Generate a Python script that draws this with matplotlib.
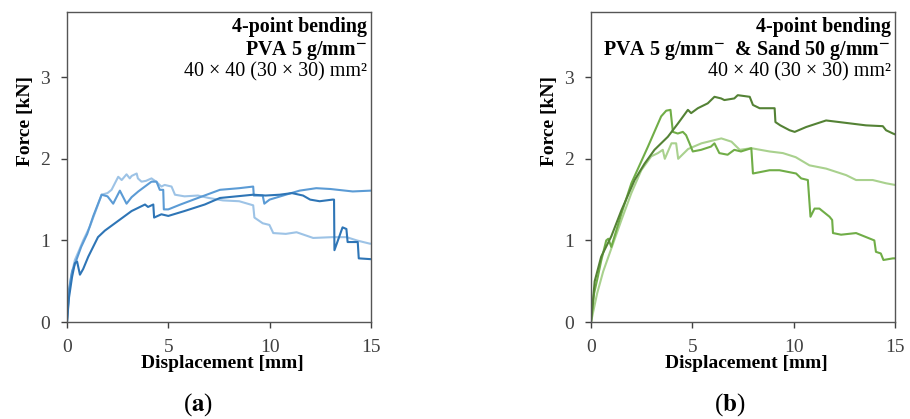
import matplotlib
matplotlib.use("Agg")
import matplotlib.pyplot as plt

plt.rcParams["font.family"] = ["Liberation Serif", "DejaVu Serif"]
plt.rcParams["mathtext.fontset"] = "stix"

# --- (a) PVA 5 g/mm, three specimens ---
a_light_x = [0, 0.1, 0.2, 0.39, 0.6, 0.8, 1.13, 1.4, 1.71, 2.0, 2.2, 2.53, 2.7, 2.94, 3.1, 3.19,
             3.44, 3.5, 3.68, 3.9, 4.17, 4.4, 4.66, 4.82, 5.16, 5.33, 5.8, 6.46, 7.0, 7.7, 8.5,
             9.19, 9.25, 9.66, 9.99, 10.18, 10.8, 11.33, 12.15, 13.1, 13.8, 14.3, 14.62, 14.95, 15]
a_light_y = [0, 0.35, 0.55, 0.76, 0.88, 1.0, 1.17, 1.35, 1.56, 1.58, 1.62, 1.78, 1.74, 1.81, 1.76, 1.79,
             1.82, 1.76, 1.72, 1.73, 1.76, 1.72, 1.66, 1.68, 1.66, 1.56, 1.54, 1.55, 1.52, 1.49, 1.48,
             1.43, 1.28, 1.21, 1.19, 1.09, 1.08, 1.1, 1.03, 1.04, 1.04, 1.0, 0.98, 0.96, 0.96]

a_med_x = [0, 0.1, 0.25, 0.45, 0.7, 1.0, 1.3, 1.71, 2.0, 2.28, 2.61, 2.94, 3.19, 3.52, 4.17, 4.42,
           4.58, 4.75, 4.78, 5.0, 5.6, 6.46, 7.55, 8.5, 9.19, 9.22, 9.66, 9.74, 10.0, 10.8, 11.48,
           12.3, 13.0, 14.1, 15]
a_med_y = [0, 0.4, 0.62, 0.75, 0.92, 1.08, 1.3, 1.56, 1.54, 1.45, 1.61, 1.45, 1.53, 1.6, 1.72, 1.72,
           1.62, 1.62, 1.38, 1.38, 1.44, 1.52, 1.62, 1.64, 1.66, 1.55, 1.55, 1.45, 1.5, 1.56, 1.61,
           1.64, 1.63, 1.6, 1.61]

a_dark_x = [0, 0.1, 0.25, 0.39, 0.5, 0.64, 0.8, 1.05, 1.53, 1.87, 2.53, 3.19, 3.85, 4.0, 4.26, 4.3,
            4.66, 5.0, 5.8, 6.8, 7.55, 9.19, 9.8, 10.5, 11.1, 11.65, 12.0, 12.47, 13.1, 13.18, 13.2,
            13.6, 13.79, 13.85, 14.2, 14.35, 14.4, 15]
a_dark_y = [0, 0.3, 0.55, 0.72, 0.74, 0.58, 0.65, 0.80, 1.04, 1.12, 1.24, 1.36, 1.44, 1.41, 1.44, 1.28,
            1.32, 1.3, 1.36, 1.44, 1.52, 1.56, 1.55, 1.56, 1.58, 1.55, 1.5, 1.48, 1.50, 1.50, 0.88,
            1.16, 1.14, 0.98, 0.98, 0.98, 0.78, 0.77]

# --- (b) PVA 5 g/mm & Sand 50 g/mm, three specimens ---
b_light_x = [0, 0.3, 0.6, 1.0, 1.5, 1.99, 2.48, 2.97, 3.3, 3.54, 3.64, 3.97, 4.2, 4.3, 4.79, 5.45,
             6.43, 6.93, 7.34, 7.91, 8.81, 9.47, 10.1, 10.78, 11.6, 12.59, 13.08, 13.9, 14.56, 15]
b_light_y = [0, 0.35, 0.62, 0.9, 1.25, 1.58, 1.86, 2.03, 2.07, 2.11, 2.0, 2.19, 2.19, 2.0, 2.12, 2.19,
             2.25, 2.21, 2.11, 2.13, 2.09, 2.07, 2.02, 1.92, 1.88, 1.80, 1.74, 1.74, 1.70, 1.68]

b_med_x = [0, 0.15, 0.34, 0.5, 0.75, 0.85, 1.0, 1.5, 1.99, 2.81, 3.46, 3.71, 3.92, 4.04, 4.28, 4.53,
           4.69, 4.86, 5.02, 5.43, 5.92, 6.09, 6.33, 6.74, 7.07, 7.4, 7.91, 7.99, 8.81, 9.3, 10.12,
           10.37, 10.7, 10.83, 11.03, 11.27, 11.77, 11.9, 11.94, 12.34, 13.08, 13.98, 14.06, 14.3,
           14.43, 14.9, 15]
b_med_y = [0, 0.35, 0.56, 0.75, 1.0, 1.02, 0.92, 1.33, 1.70, 2.15, 2.52, 2.59, 2.60, 2.33, 2.31, 2.33,
           2.29, 2.19, 2.09, 2.11, 2.15, 2.19, 2.07, 2.05, 2.11, 2.09, 2.13, 1.82, 1.86, 1.86, 1.82,
           1.76, 1.74, 1.29, 1.39, 1.39, 1.29, 1.25, 1.09, 1.07, 1.09, 1.0, 0.86, 0.84,
           0.76, 0.78, 0.78]

b_dark_x = [0, 0.18, 0.5, 1.0, 1.5, 2.15, 2.64, 3.13, 3.79, 4.28, 4.78, 4.94, 5.27, 5.76, 6.09, 6.42,
            6.58, 7.07, 7.24, 7.83, 7.99, 8.32, 9.06, 9.1, 9.34, 9.8, 10.05, 10.62, 11.6, 12.26,
            13.57, 14.4, 14.56, 14.9, 15]
b_dark_y = [0, 0.5, 0.8, 1.05, 1.37, 1.74, 1.94, 2.11, 2.27, 2.43, 2.6, 2.56, 2.62, 2.68, 2.76, 2.74,
            2.72, 2.74, 2.78, 2.76, 2.66, 2.62, 2.62, 2.45, 2.41, 2.35, 2.33, 2.39, 2.47, 2.45,
            2.41, 2.40, 2.35, 2.31, 2.30]

blues = ["#9DC3E6", "#5B9BD5", "#2E75B6"]
greens = ["#A9D18E", "#70AD47", "#548235"]

x_ticks = [0, 5, 10, 15]
y_ticks = [0, 1, 2, 3]

panels = [
    {
        "rect": [0.0736, 0.2315, 0.334, 0.740],
        "series": [(a_light_x, a_light_y), (a_med_x, a_med_y), (a_dark_x, a_dark_y)],
        "colors": blues,
        "line2": r"PVA 5 g/mm$^{\mathbf{-}}$",
        "caption": r"($\mathbf{a}$)",
        "cap_x": 198 / 910,
    },
    {
        "rect": [0.6495, 0.2315, 0.334, 0.740],
        "series": [(b_light_x, b_light_y), (b_med_x, b_med_y), (b_dark_x, b_dark_y)],
        "colors": greens,
        "line2": r"PVA 5 g/mm$^{\mathbf{-}}$  & Sand 50 g/mm$^{\mathbf{-}}$",
        "caption": r"($\mathbf{b}$)",
        "cap_x": 730 / 910,
    },
]

fig = plt.figure(figsize=(9.1, 4.19), dpi=100)

for p in panels:
    ax = fig.add_axes(p["rect"])
    for (xs, ys), c in zip(p["series"], p["colors"]):
        ax.plot(xs, ys, color=c, lw=1.5)

    ax.set_xlim(0, 15)
    ax.set_ylim(0, 3.8)
    ax.set_xticks(x_ticks)
    ax.set_yticks(y_ticks)
    ax.tick_params(direction="out", length=4, width=1, pad=8.5, labelsize=14,
                   colors="#404040", labelcolor="#404040")
    for s in ax.spines.values():
        s.set_color("#555555")
        s.set_linewidth(1.0)

    ax.set_xlabel("Displacement [mm]", fontsize=14, fontweight="bold", va="center")
    ax.xaxis.set_label_coords(0.51, -0.135)
    ax.set_ylabel("Force [kN]", fontsize=14, fontweight="bold", va="center")
    ax.yaxis.set_label_coords(-0.138, 0.648)

    ax.text(0.987, 0.952, "4-point bending", transform=ax.transAxes, ha="right", va="center",
            fontsize=14.4, fontweight="bold")
    ax.text(0.987, 0.877, p["line2"], transform=ax.transAxes, ha="right", va="center",
            fontsize=14.4, fontweight="bold")
    ax.text(0.987, 0.806, "40 × 40 (30 × 30) mm²", transform=ax.transAxes, ha="right",
            va="center", fontsize=14.4)

    fig.text(p["cap_x"], (419 - 405) / 419, p["caption"], ha="center", va="center", fontsize=18)

fig.savefig("out.png", dpi=100)
